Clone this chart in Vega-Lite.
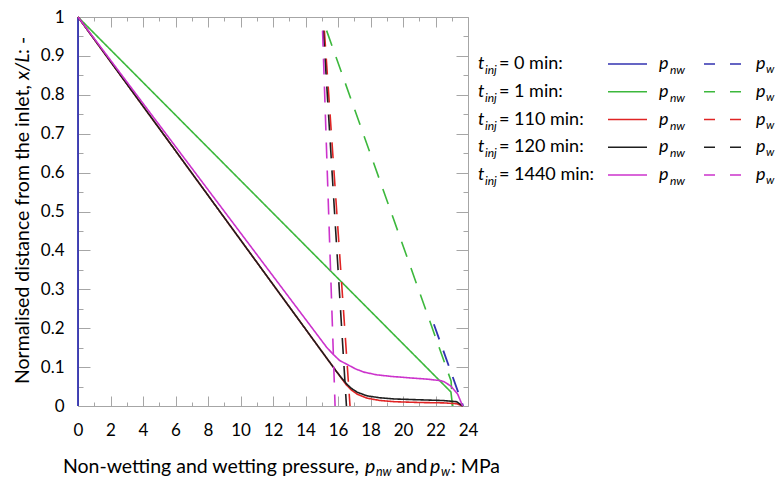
{
  "$schema": "https://vega.github.io/schema/vega-lite/v6.json",
  "padding": {"left": 12, "top": 7, "right": 0, "bottom": 0},
  "spacing": 10,
  "bounds": "flush",
  "config": {
    "font": "Lato",
    "view": {"stroke": "#a6a6a6"},
    "axis": {"tickColor": "#a6a6a6", "domain": false, "grid": false, "labelFont": "Lato", "labelFontSize": 17, "labelColor": "#000000", "labelFlush": false, "labelOverlap": false, "title": null},
    "text": {"font": "Lato", "color": "#000000"}
  },
  "datasets": {
    "curves": [
      {"series": "0 min", "kind": "pnw", "p": 0, "xL": 1},
      {"series": "0 min", "kind": "pnw", "p": 0, "xL": 0},
      {"series": "0 min", "kind": "pw", "p": 21.9, "xL": 0.21},
      {"series": "0 min", "kind": "pw", "p": 23.7, "xL": 0},
      {"series": "1 min", "kind": "pnw", "p": 0, "xL": 1},
      {"series": "1 min", "kind": "pnw", "p": 22.95, "xL": 0.036},
      {"series": "1 min", "kind": "pnw", "p": 23.05, "xL": 0},
      {"series": "1 min", "kind": "pw", "p": 15.3, "xL": 0.965},
      {"series": "1 min", "kind": "pw", "p": 22.96, "xL": 0.064},
      {"series": "1 min", "kind": "pw", "p": 23.05, "xL": 0},
      {"series": "110 min", "kind": "pnw", "p": 0, "xL": 1},
      {"series": "110 min", "kind": "pnw", "p": 15.9, "xL": 0.089},
      {"series": "110 min", "kind": "pnw", "p": 16.2, "xL": 0.072},
      {"series": "110 min", "kind": "pnw", "p": 16.5, "xL": 0.055},
      {"series": "110 min", "kind": "pnw", "p": 16.8, "xL": 0.042},
      {"series": "110 min", "kind": "pnw", "p": 17.2, "xL": 0.03},
      {"series": "110 min", "kind": "pnw", "p": 17.8, "xL": 0.02},
      {"series": "110 min", "kind": "pnw", "p": 18.6, "xL": 0.014},
      {"series": "110 min", "kind": "pnw", "p": 19.5, "xL": 0.011},
      {"series": "110 min", "kind": "pnw", "p": 21, "xL": 0.009},
      {"series": "110 min", "kind": "pnw", "p": 22.5, "xL": 0.008},
      {"series": "110 min", "kind": "pnw", "p": 23.3, "xL": 0.006},
      {"series": "110 min", "kind": "pnw", "p": 23.67, "xL": 0},
      {"series": "110 min", "kind": "pw", "p": 15.16, "xL": 0.965},
      {"series": "110 min", "kind": "pw", "p": 16.74, "xL": 0},
      {"series": "120 min", "kind": "pnw", "p": 0, "xL": 1},
      {"series": "120 min", "kind": "pnw", "p": 15.9, "xL": 0.089},
      {"series": "120 min", "kind": "pnw", "p": 16.2, "xL": 0.073},
      {"series": "120 min", "kind": "pnw", "p": 16.5, "xL": 0.058},
      {"series": "120 min", "kind": "pnw", "p": 16.8, "xL": 0.046},
      {"series": "120 min", "kind": "pnw", "p": 17.2, "xL": 0.035},
      {"series": "120 min", "kind": "pnw", "p": 17.8, "xL": 0.026},
      {"series": "120 min", "kind": "pnw", "p": 18.6, "xL": 0.021},
      {"series": "120 min", "kind": "pnw", "p": 19.5, "xL": 0.018},
      {"series": "120 min", "kind": "pnw", "p": 21, "xL": 0.016},
      {"series": "120 min", "kind": "pnw", "p": 22.5, "xL": 0.014},
      {"series": "120 min", "kind": "pnw", "p": 23.3, "xL": 0.011},
      {"series": "120 min", "kind": "pnw", "p": 23.67, "xL": 0},
      {"series": "120 min", "kind": "pw", "p": 15.1, "xL": 0.965},
      {"series": "120 min", "kind": "pw", "p": 16.52, "xL": 0},
      {"series": "1440 min", "kind": "pnw", "p": 0, "xL": 1},
      {"series": "1440 min", "kind": "pnw", "p": 15.3, "xL": 0.151},
      {"series": "1440 min", "kind": "pnw", "p": 15.7, "xL": 0.133},
      {"series": "1440 min", "kind": "pnw", "p": 16.1, "xL": 0.117},
      {"series": "1440 min", "kind": "pnw", "p": 16.6, "xL": 0.106},
      {"series": "1440 min", "kind": "pnw", "p": 17.1, "xL": 0.095},
      {"series": "1440 min", "kind": "pnw", "p": 17.6, "xL": 0.087},
      {"series": "1440 min", "kind": "pnw", "p": 18.4, "xL": 0.08},
      {"series": "1440 min", "kind": "pnw", "p": 19.3, "xL": 0.076},
      {"series": "1440 min", "kind": "pnw", "p": 20.5, "xL": 0.072},
      {"series": "1440 min", "kind": "pnw", "p": 21.5, "xL": 0.069},
      {"series": "1440 min", "kind": "pnw", "p": 22.35, "xL": 0.065},
      {"series": "1440 min", "kind": "pnw", "p": 22.55, "xL": 0.062},
      {"series": "1440 min", "kind": "pnw", "p": 22.95, "xL": 0.051},
      {"series": "1440 min", "kind": "pnw", "p": 23.37, "xL": 0.03},
      {"series": "1440 min", "kind": "pnw", "p": 23.67, "xL": 0},
      {"series": "1440 min", "kind": "pw", "p": 15.05, "xL": 0.965},
      {"series": "1440 min", "kind": "pw", "p": 15.82, "xL": 0}
    ],
    "legend": [
      {"series": "0 min", "eq": "= 0 min:"},
      {"series": "1 min", "eq": "= 1 min:"},
      {"series": "110 min", "eq": "= 110 min:"},
      {"series": "120 min", "eq": "= 120 min:"},
      {"series": "1440 min", "eq": "= 1440 min:"}
    ],
    "one": [{}]
  },
  "hconcat": [
    {
      "width": 390,
      "height": 389,
      "resolve": {"axis": {"x": "independent", "y": "independent"}},
      "layer": [
        {
          "data": {"name": "curves"},
          "mark": {"type": "point", "opacity": 0},
          "encoding": {
            "x": {"field": "p", "type": "quantitative", "scale": {"domain": [0, 24], "nice": false}, "axis": {"orient": "bottom", "values": [0, 2, 4, 6, 8, 10, 12, 14, 16, 18, 20, 22, 24], "tickSize": -10, "labelPadding": 26}},
            "y": {"field": "xL", "type": "quantitative", "scale": {"domain": [0, 1], "nice": false}, "axis": {"orient": "left", "values": [0, 0.1, 0.2, 0.3, 0.4, 0.5, 0.6, 0.7, 0.8, 0.9, 1], "format": "~g", "tickSize": -12, "labelPadding": 26}}
          }
        },
        {
          "data": {"name": "curves"},
          "mark": {"type": "point", "opacity": 0},
          "encoding": {
            "x": {"field": "p", "type": "quantitative", "scale": {"domain": [0, 24], "nice": false}, "axis": {"orient": "bottom", "values": [1, 3, 5, 7, 9, 11, 13, 15, 17, 19, 21, 23], "tickSize": -4, "labels": false}},
            "y": {"field": "xL", "type": "quantitative", "scale": {"domain": [0, 1], "nice": false}, "axis": {"orient": "left", "values": [0.05, 0.15, 0.25, 0.35, 0.45, 0.55, 0.65, 0.75, 0.85, 0.95], "tickSize": -5, "labels": false}}
          }
        },
        {
          "data": {"name": "curves"},
          "mark": {"type": "point", "opacity": 0},
          "encoding": {
            "x": {"field": "p", "type": "quantitative", "scale": {"domain": [0, 24], "nice": false}, "axis": {"orient": "top", "values": [0, 2, 4, 6, 8, 10, 12, 14, 16, 18, 20, 22, 24], "tickSize": -10, "labels": false}},
            "y": {"field": "xL", "type": "quantitative", "scale": {"domain": [0, 1], "nice": false}, "axis": {"orient": "right", "values": [0, 0.1, 0.2, 0.3, 0.4, 0.5, 0.6, 0.7, 0.8, 0.9, 1], "tickSize": -12, "labels": false}}
          }
        },
        {
          "data": {"name": "curves"},
          "mark": {"type": "point", "opacity": 0},
          "encoding": {
            "x": {"field": "p", "type": "quantitative", "scale": {"domain": [0, 24], "nice": false}, "axis": {"orient": "top", "values": [1, 3, 5, 7, 9, 11, 13, 15, 17, 19, 21, 23], "tickSize": -4, "labels": false}},
            "y": {"field": "xL", "type": "quantitative", "scale": {"domain": [0, 1], "nice": false}, "axis": {"orient": "right", "values": [0.05, 0.15, 0.25, 0.35, 0.45, 0.55, 0.65, 0.75, 0.85, 0.95], "tickSize": -5, "labels": false}}
          }
        },
        {
          "data": {"name": "curves"},
          "transform": [{"filter": "datum.series === '0 min'"}],
          "mark": {"type": "line", "strokeWidth": 1.8},
          "encoding": {
            "x": {"field": "p", "type": "quantitative", "scale": {"domain": [0, 24], "nice": false}, "axis": null},
            "y": {"field": "xL", "type": "quantitative", "scale": {"domain": [0, 1], "nice": false}, "axis": null},
            "color": {"field": "series", "type": "nominal", "scale": {"domain": ["0 min", "1 min", "110 min", "120 min", "1440 min"], "range": ["#3232b0", "#3cb83c", "#e02424", "#1e1e1e", "#cc33cc"]}, "legend": null},
            "strokeDash": {"field": "kind", "type": "nominal", "scale": {"domain": ["pnw", "pw"], "range": [[1, 0], [16, 12]]}, "legend": null},
            "order": {"field": "xL", "sort": "descending"}
          }
        },
        {
          "data": {"name": "curves"},
          "transform": [{"filter": "datum.series === '1 min'"}],
          "mark": {"type": "line", "strokeWidth": 1.6},
          "encoding": {
            "x": {"field": "p", "type": "quantitative", "scale": {"domain": [0, 24], "nice": false}, "axis": null},
            "y": {"field": "xL", "type": "quantitative", "scale": {"domain": [0, 1], "nice": false}, "axis": null},
            "color": {"field": "series", "type": "nominal", "scale": {"domain": ["0 min", "1 min", "110 min", "120 min", "1440 min"], "range": ["#3232b0", "#3cb83c", "#e02424", "#1e1e1e", "#cc33cc"]}, "legend": null},
            "strokeDash": {"field": "kind", "type": "nominal", "scale": {"domain": ["pnw", "pw"], "range": [[1, 0], [16, 12]]}, "legend": null},
            "order": {"field": "xL", "sort": "descending"}
          }
        },
        {
          "data": {"name": "curves"},
          "transform": [{"filter": "datum.series === '110 min'"}],
          "mark": {"type": "line", "strokeWidth": 1.6},
          "encoding": {
            "x": {"field": "p", "type": "quantitative", "scale": {"domain": [0, 24], "nice": false}, "axis": null},
            "y": {"field": "xL", "type": "quantitative", "scale": {"domain": [0, 1], "nice": false}, "axis": null},
            "color": {"field": "series", "type": "nominal", "scale": {"domain": ["0 min", "1 min", "110 min", "120 min", "1440 min"], "range": ["#3232b0", "#3cb83c", "#e02424", "#1e1e1e", "#cc33cc"]}, "legend": null},
            "strokeDash": {"field": "kind", "type": "nominal", "scale": {"domain": ["pnw", "pw"], "range": [[1, 0], [16, 12]]}, "legend": null},
            "order": {"field": "xL", "sort": "descending"}
          }
        },
        {
          "data": {"name": "curves"},
          "transform": [{"filter": "datum.series === '120 min'"}],
          "mark": {"type": "line", "strokeWidth": 1.6},
          "encoding": {
            "x": {"field": "p", "type": "quantitative", "scale": {"domain": [0, 24], "nice": false}, "axis": null},
            "y": {"field": "xL", "type": "quantitative", "scale": {"domain": [0, 1], "nice": false}, "axis": null},
            "color": {"field": "series", "type": "nominal", "scale": {"domain": ["0 min", "1 min", "110 min", "120 min", "1440 min"], "range": ["#3232b0", "#3cb83c", "#e02424", "#1e1e1e", "#cc33cc"]}, "legend": null},
            "strokeDash": {"field": "kind", "type": "nominal", "scale": {"domain": ["pnw", "pw"], "range": [[1, 0], [16, 12]]}, "legend": null},
            "order": {"field": "xL", "sort": "descending"}
          }
        },
        {
          "data": {"name": "curves"},
          "transform": [{"filter": "datum.series === '1440 min'"}],
          "mark": {"type": "line", "strokeWidth": 1.6},
          "encoding": {
            "x": {"field": "p", "type": "quantitative", "scale": {"domain": [0, 24], "nice": false}, "axis": null},
            "y": {"field": "xL", "type": "quantitative", "scale": {"domain": [0, 1], "nice": false}, "axis": null},
            "color": {"field": "series", "type": "nominal", "scale": {"domain": ["0 min", "1 min", "110 min", "120 min", "1440 min"], "range": ["#3232b0", "#3cb83c", "#e02424", "#1e1e1e", "#cc33cc"]}, "legend": null},
            "strokeDash": {"field": "kind", "type": "nominal", "scale": {"domain": ["pnw", "pw"], "range": [[1, 0], [16, 12]]}, "legend": null},
            "order": {"field": "xL", "sort": "descending"}
          }
        },
        {
          "data": {"name": "one"},
          "mark": {"type": "text", "text": "Non-wetting and wetting pressure,", "align": "right", "baseline": "middle", "fontSize": 19.5},
          "encoding": {
            "x": {"datum": 17.292, "scale": {"domain": [0, 24], "nice": false}, "axis": null},
            "y": {"datum": -0.157, "scale": {"domain": [0, 1], "nice": false}, "axis": null}
          }
        },
        {
          "data": {"name": "one"},
          "mark": {"type": "text", "text": "p", "align": "left", "baseline": "middle", "fontSize": 19.5, "fontStyle": "italic"},
          "encoding": {
            "x": {"datum": 17.662, "scale": {"domain": [0, 24], "nice": false}, "axis": null},
            "y": {"datum": -0.157, "scale": {"domain": [0, 1], "nice": false}, "axis": null}
          }
        },
        {
          "data": {"name": "one"},
          "mark": {"type": "text", "text": "nw", "align": "left", "baseline": "middle", "fontSize": 12.5, "fontStyle": "italic", "dy": 5},
          "encoding": {
            "x": {"datum": 18.338, "scale": {"domain": [0, 24], "nice": false}, "axis": null},
            "y": {"datum": -0.157, "scale": {"domain": [0, 1], "nice": false}, "axis": null}
          }
        },
        {
          "data": {"name": "one"},
          "mark": {"type": "text", "text": "and", "align": "left", "baseline": "middle", "fontSize": 19.5},
          "encoding": {
            "x": {"datum": 19.569, "scale": {"domain": [0, 24], "nice": false}, "axis": null},
            "y": {"datum": -0.157, "scale": {"domain": [0, 1], "nice": false}, "axis": null}
          }
        },
        {
          "data": {"name": "one"},
          "mark": {"type": "text", "text": "p", "align": "left", "baseline": "middle", "fontSize": 19.5, "fontStyle": "italic"},
          "encoding": {
            "x": {"datum": 21.662, "scale": {"domain": [0, 24], "nice": false}, "axis": null},
            "y": {"datum": -0.157, "scale": {"domain": [0, 1], "nice": false}, "axis": null}
          }
        },
        {
          "data": {"name": "one"},
          "mark": {"type": "text", "text": "w", "align": "left", "baseline": "middle", "fontSize": 12.5, "fontStyle": "italic", "dy": 5},
          "encoding": {
            "x": {"datum": 22.338, "scale": {"domain": [0, 24], "nice": false}, "axis": null},
            "y": {"datum": -0.157, "scale": {"domain": [0, 1], "nice": false}, "axis": null}
          }
        },
        {
          "data": {"name": "one"},
          "mark": {"type": "text", "text": ": MPa", "align": "left", "baseline": "middle", "fontSize": 19.5},
          "encoding": {
            "x": {"datum": 22.954, "scale": {"domain": [0, 24], "nice": false}, "axis": null},
            "y": {"datum": -0.157, "scale": {"domain": [0, 1], "nice": false}, "axis": null}
          }
        },
        {
          "data": {"name": "one"},
          "mark": {"type": "text", "text": "Normalised distance from the inlet,", "align": "right", "baseline": "middle", "fontSize": 19.5, "angle": 270},
          "encoding": {
            "x": {"datum": -3.385, "scale": {"domain": [0, 24], "nice": false}, "axis": null},
            "y": {"datum": 0.825, "scale": {"domain": [0, 1], "nice": false}, "axis": null}
          }
        },
        {
          "data": {"name": "one"},
          "mark": {"type": "text", "text": "x/L", "align": "left", "baseline": "middle", "fontSize": 19.5, "angle": 270, "fontStyle": "italic"},
          "encoding": {
            "x": {"datum": -3.385, "scale": {"domain": [0, 24], "nice": false}, "axis": null},
            "y": {"datum": 0.838, "scale": {"domain": [0, 1], "nice": false}, "axis": null}
          }
        },
        {
          "data": {"name": "one"},
          "mark": {"type": "text", "text": ": -", "align": "left", "baseline": "middle", "fontSize": 19.5, "angle": 270},
          "encoding": {
            "x": {"datum": -3.385, "scale": {"domain": [0, 24], "nice": false}, "axis": null},
            "y": {"datum": 0.905, "scale": {"domain": [0, 1], "nice": false}, "axis": null}
          }
        }
      ]
    },
    {
      "width": 296,
      "height": 389,
      "view": {"stroke": null},
      "data": {"name": "legend"},
      "layer": [
        {
          "mark": {"type": "text", "text": "t", "align": "left", "baseline": "middle", "fontSize": 18, "fontStyle": "italic"},
          "encoding": {
            "x": {"datum": 0, "scale": {"domain": [0, 296]}, "axis": null},
            "y": {"field": "series", "type": "ordinal", "scale": {"type": "point", "padding": 0, "domain": ["0 min", "1 min", "110 min", "120 min", "1440 min"], "range": [47, 158]}, "axis": null}
          }
        },
        {
          "mark": {"type": "text", "text": "inj", "align": "left", "baseline": "middle", "fontSize": 12, "fontStyle": "italic", "dy": 6},
          "encoding": {
            "x": {"datum": 7, "scale": {"domain": [0, 296]}, "axis": null},
            "y": {"field": "series", "type": "ordinal", "scale": {"type": "point", "padding": 0, "domain": ["0 min", "1 min", "110 min", "120 min", "1440 min"], "range": [47, 158]}, "axis": null}
          }
        },
        {
          "mark": {"type": "text", "align": "left", "baseline": "middle", "fontSize": 18},
          "encoding": {
            "x": {"datum": 21, "scale": {"domain": [0, 296]}, "axis": null},
            "y": {"field": "series", "type": "ordinal", "scale": {"type": "point", "padding": 0, "domain": ["0 min", "1 min", "110 min", "120 min", "1440 min"], "range": [47, 158]}, "axis": null},
            "text": {"field": "eq"}
          }
        },
        {
          "mark": {"type": "rule", "strokeWidth": 1.6},
          "encoding": {
            "x": {"datum": 130, "scale": {"domain": [0, 296]}, "axis": null},
            "x2": {"datum": 169},
            "y": {"field": "series", "type": "ordinal", "scale": {"type": "point", "padding": 0, "domain": ["0 min", "1 min", "110 min", "120 min", "1440 min"], "range": [47, 158]}, "axis": null},
            "color": {"field": "series", "type": "nominal", "scale": {"domain": ["0 min", "1 min", "110 min", "120 min", "1440 min"], "range": ["#3232b0", "#3cb83c", "#e02424", "#1e1e1e", "#cc33cc"]}, "legend": null}
          }
        },
        {
          "mark": {"type": "text", "text": "p", "align": "left", "baseline": "middle", "fontSize": 18, "fontStyle": "italic"},
          "encoding": {
            "x": {"datum": 181, "scale": {"domain": [0, 296]}, "axis": null},
            "y": {"field": "series", "type": "ordinal", "scale": {"type": "point", "padding": 0, "domain": ["0 min", "1 min", "110 min", "120 min", "1440 min"], "range": [47, 158]}, "axis": null}
          }
        },
        {
          "mark": {"type": "text", "text": "nw", "align": "left", "baseline": "middle", "fontSize": 12, "fontStyle": "italic", "dy": 6},
          "encoding": {
            "x": {"datum": 192, "scale": {"domain": [0, 296]}, "axis": null},
            "y": {"field": "series", "type": "ordinal", "scale": {"type": "point", "padding": 0, "domain": ["0 min", "1 min", "110 min", "120 min", "1440 min"], "range": [47, 158]}, "axis": null}
          }
        },
        {
          "mark": {"type": "rule", "strokeWidth": 1.6, "strokeDash": [11, 15]},
          "encoding": {
            "x": {"datum": 226, "scale": {"domain": [0, 296]}, "axis": null},
            "x2": {"datum": 263},
            "y": {"field": "series", "type": "ordinal", "scale": {"type": "point", "padding": 0, "domain": ["0 min", "1 min", "110 min", "120 min", "1440 min"], "range": [47, 158]}, "axis": null},
            "color": {"field": "series", "type": "nominal", "scale": {"domain": ["0 min", "1 min", "110 min", "120 min", "1440 min"], "range": ["#3232b0", "#3cb83c", "#e02424", "#1e1e1e", "#cc33cc"]}, "legend": null}
          }
        },
        {
          "mark": {"type": "text", "text": "p", "align": "left", "baseline": "middle", "fontSize": 18, "fontStyle": "italic"},
          "encoding": {
            "x": {"datum": 278, "scale": {"domain": [0, 296]}, "axis": null},
            "y": {"field": "series", "type": "ordinal", "scale": {"type": "point", "padding": 0, "domain": ["0 min", "1 min", "110 min", "120 min", "1440 min"], "range": [47, 158]}, "axis": null}
          }
        },
        {
          "mark": {"type": "text", "text": "w", "align": "left", "baseline": "middle", "fontSize": 11.5, "fontStyle": "italic", "dy": 6},
          "encoding": {
            "x": {"datum": 288, "scale": {"domain": [0, 296]}, "axis": null},
            "y": {"field": "series", "type": "ordinal", "scale": {"type": "point", "padding": 0, "domain": ["0 min", "1 min", "110 min", "120 min", "1440 min"], "range": [47, 158]}, "axis": null}
          }
        }
      ]
    }
  ],
  "resolve": {"scale": {"x": "independent", "y": "independent"}}
}
